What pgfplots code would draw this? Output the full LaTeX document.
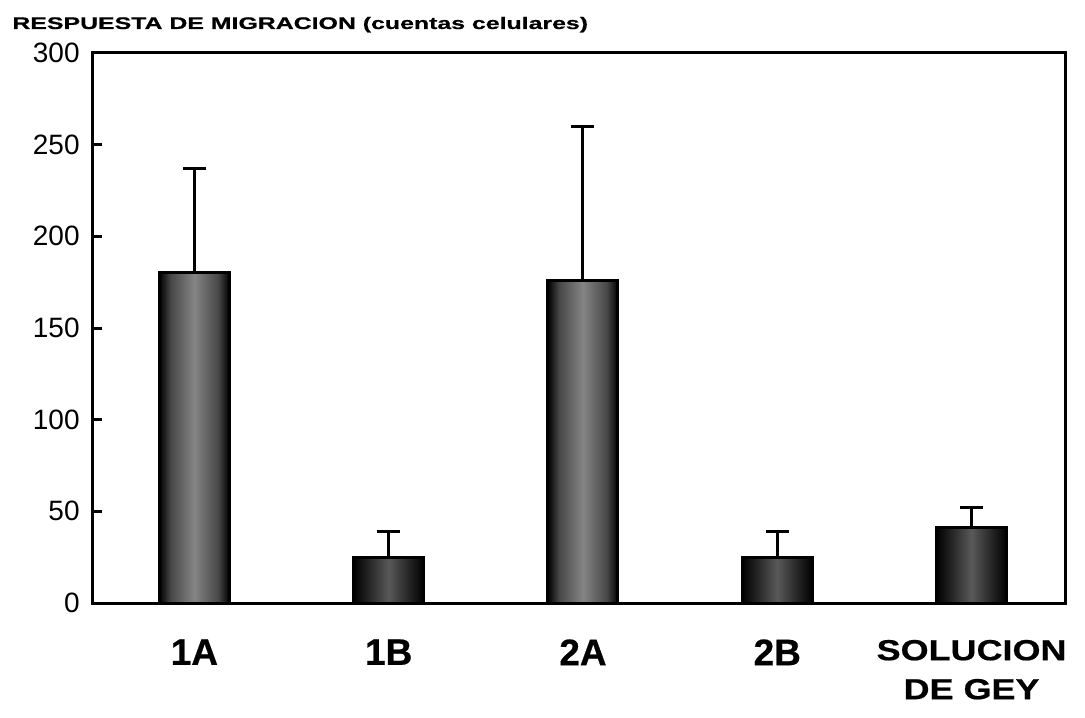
\documentclass[border=0pt]{standalone}
\usepackage{fontspec}
\setmainfont{Liberation Sans}
\newfontfamily\titlefont[FakeStretch=1.48,FakeBold=0.7]{Liberation Sans}
\newfontfamily\catfont[FakeBold=0.6]{Liberation Sans}
\newfontfamily\widefont[FakeStretch=1.24,FakeBold=0.6]{Liberation Sans}
\usepackage{pgfplots}
\pgfplotsset{compat=1.18}

\newcommand{\cat}[1]{\catfont\bfseries\fontsize{18.5}{20}\selectfont #1}

% grey speckled centre, black edges (the bar spans 25bp..75bp)
\pgfdeclarehorizontalshading{speckle}{100bp}{color(0bp)=(black); color(25bp)=(black);
    color(33bp)=(black!72); color(50bp)=(black!48); color(67bp)=(black!72);
    color(75bp)=(black); color(100bp)=(black)}
\pgfdeclarehorizontalshading{specklesmall}{100bp}{color(0bp)=(black); color(25bp)=(black);
    color(36bp)=(black!85); color(50bp)=(black!65); color(64bp)=(black!85);
    color(75bp)=(black); color(100bp)=(black)}

% one bar per plot so that each bar gets its own shading
\pgfplotsset{
    migbar/.style={ybar, bar width=35pt, bar shift=0pt, draw=black, line width=1.5pt,
        shading=#1,
        error bars/.cd, y dir=plus, y explicit,
        error bar style={line width=1.5pt, black},
        error mark options={rotate=90, mark size=5.75pt, line width=1.5pt, black}},
}

\begin{document}
\begin{tikzpicture}
\begin{axis}[
    scale only axis,
    width=486.5pt, height=275pt,
    xmin=-0.527, xmax=4.481,
    ymin=0, ymax=300,
    ytick={0,50,...,300},
    ytick pos=left,
    tick align=inside,
    major tick length=5pt,
    ytick style={line width=1.5pt, black},
    xtick={0,1,2,3,4},
    xtick style={draw=none},
    xticklabels={{\cat{1A}}, {\cat{1B}}, {\cat{2A}}, {\cat{2B}},
        {\widefont\bfseries\fontsize{14.5}{19.5}\selectfont
         \raisebox{0pt}[10.4pt][\depth]{\begin{tabular}[t]{@{}c@{}}SOLUCION\\DE GEY\end{tabular}}}},
    xticklabel style={anchor=north, inner sep=0pt, yshift=-18pt},
    yticklabel style={font=\fontsize{14}{16}\selectfont, inner sep=0pt, xshift=-6pt},
    /pgf/number format/assume math mode=true,
    axis line style={line width=1.5pt, black},
]
% mean +- upper error (cell counts)
\addplot[migbar=speckle] coordinates {(0,180) +- (0,57)};
\addplot[migbar=specklesmall] coordinates {(1,25) +- (0,14)};
\addplot[migbar=speckle] coordinates {(2,176) +- (0,84)};
\addplot[migbar=specklesmall] coordinates {(3,25) +- (0,14)};
\addplot[migbar=specklesmall] coordinates {(4,41) +- (0,11)};
\end{axis}
\node[anchor=base west, inner sep=0pt]
    at ([xshift=-40pt, yshift=12pt]current axis.north west)
    {\titlefont\bfseries\fontsize{8.4}{10}\selectfont RESPUESTA DE MIGRACION (cuentas celulares)};
\pgfresetboundingbox
\path (current axis.south west) ++(-46pt,-57pt) rectangle ++(542.5pt,358.5pt);
\end{tikzpicture}
\end{document}
